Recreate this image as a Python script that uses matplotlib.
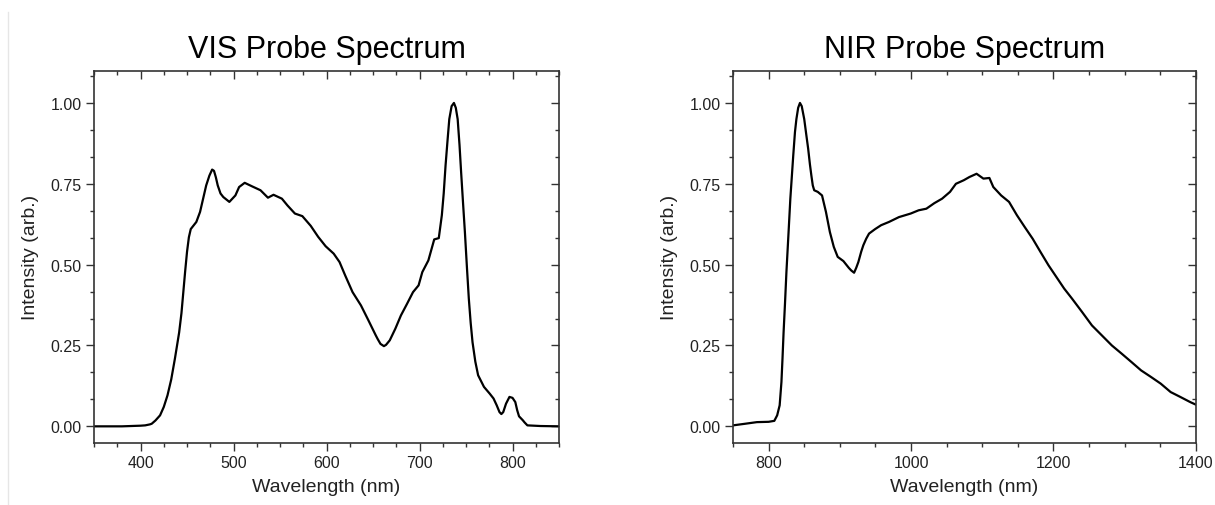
import matplotlib
matplotlib.use("Agg")
import matplotlib.pyplot as plt
from matplotlib.ticker import MultipleLocator, FormatStrFormatter
from matplotlib.lines import Line2D

plt.rcParams['font.family'] = ['Liberation Sans', 'DejaVu Sans']

# VIS probe spectrum
vis_wl = [350, 380, 400, 405, 410, 412, 416, 421, 425, 429, 433, 437, 441.5, 444, 446,
          448, 450, 452, 454, 460, 464, 470.6, 474, 477, 479, 481, 483, 486, 489, 495.5,
          502, 506, 512, 520, 529, 537, 543, 552, 558, 566, 574, 583, 591, 599, 607.7,
          614, 620, 628, 637, 645, 653, 655, 658, 661.7, 664, 668, 674, 680, 686.6, 693,
          699, 703, 709.5, 715.8, 720.7, 724, 726, 728, 730, 732, 734.5, 737, 739, 741,
          743, 744.7, 746.8, 748.8, 751, 753, 755, 757, 760, 763, 769.3, 775.5, 779.6,
          783, 786, 788, 790, 793, 796.7, 800, 803, 805, 807, 811, 813, 816, 830, 850]
vis_int = [0.0, 0.0, 0.002, 0.003, 0.006, 0.008, 0.018, 0.034, 0.06, 0.096, 0.145, 0.21,
           0.29, 0.35, 0.415, 0.48, 0.54, 0.585, 0.61, 0.632, 0.663, 0.745, 0.775, 0.794,
           0.79, 0.77, 0.745, 0.72, 0.709, 0.694, 0.714, 0.74, 0.753, 0.742, 0.73, 0.707,
           0.716, 0.704, 0.683, 0.658, 0.65, 0.62, 0.586, 0.557, 0.534, 0.508, 0.467,
           0.415, 0.374, 0.328, 0.281, 0.27, 0.255, 0.248, 0.252, 0.266, 0.302, 0.343,
           0.379, 0.415, 0.436, 0.477, 0.513, 0.578, 0.582, 0.653, 0.72, 0.807, 0.88,
           0.95, 0.99, 1.0, 0.985, 0.95, 0.87, 0.787, 0.69, 0.6, 0.49, 0.395, 0.32, 0.26,
           0.2, 0.158, 0.122, 0.101, 0.086, 0.065, 0.044, 0.038, 0.044, 0.07, 0.091,
           0.088, 0.075, 0.05, 0.031, 0.019, 0.012, 0.003, 0.001, 0.0]

# NIR probe spectrum
nir_wl = [750, 767, 783.5, 800, 808, 812, 815.5, 818, 819.5, 821, 823, 825, 828, 830.5,
          834.6, 837, 839, 841.5, 844, 846.5, 850, 853, 855.5, 858, 860, 862, 864, 869,
          875, 880.5, 886, 891.5, 897, 905, 912.6, 916, 920, 923, 926, 930, 933, 937,
          941, 949.6, 958, 969, 983, 999.5, 1010.6, 1021.5, 1032.6, 1043.6, 1054.7,
          1063, 1074, 1082, 1092, 1101.6, 1110, 1115.5, 1126.5, 1137.6, 1148.6, 1159.7,
          1170.8, 1181.8, 1193, 1204, 1215, 1226, 1240, 1254, 1268, 1282, 1295.6,
          1309.4, 1323, 1336.7, 1350.6, 1364.5, 1378, 1392, 1400]
nir_int = [0.003, 0.008, 0.013, 0.014, 0.017, 0.034, 0.065, 0.137, 0.21, 0.29, 0.38,
           0.477, 0.6, 0.704, 0.838, 0.91, 0.95, 0.985, 1.0, 0.99, 0.95, 0.9, 0.859,
           0.81, 0.776, 0.745, 0.73, 0.725, 0.714, 0.663, 0.601, 0.555, 0.524, 0.511,
           0.49, 0.482, 0.475, 0.49, 0.508, 0.54, 0.56, 0.58, 0.596, 0.61, 0.622, 0.632,
           0.647, 0.658, 0.668, 0.673, 0.69, 0.704, 0.725, 0.75, 0.761, 0.771, 0.781,
           0.766, 0.768, 0.74, 0.714, 0.694, 0.653, 0.616, 0.58, 0.539, 0.498, 0.462,
           0.426, 0.395, 0.354, 0.312, 0.281, 0.25, 0.225, 0.199, 0.173, 0.153, 0.132,
           0.106, 0.091, 0.075, 0.067]

yticks = [0.0, 0.25, 0.5, 0.75, 1.0]

fig = plt.figure(figsize=(12.15, 5.06), dpi=100)
ax1 = fig.add_axes([0.0774, 0.1235, 0.3827, 0.735])
ax2 = fig.add_axes([0.6033, 0.1235, 0.3810, 0.735])

fig.add_artist(Line2D([0.0066, 0.0066], [0.0, 0.975], transform=fig.transFigure,
                      color='#e6e6e6', lw=1))

def style(ax, title, xlim, xmaj, xmin):
    ax.set_xlim(*xlim)
    ax.set_ylim(-0.05, 1.1)
    ax.set_yticks(yticks)
    ax.yaxis.set_major_formatter(FormatStrFormatter('%.2f'))
    ax.yaxis.set_minor_locator(MultipleLocator(0.25 / 3))
    ax.xaxis.set_major_locator(MultipleLocator(xmaj))
    ax.xaxis.set_minor_locator(MultipleLocator(xmin))
    ax.set_title(title, fontsize=22, pad=10)
    ax.set_xlabel('Wavelength (nm)', fontsize=14, color='#222222', labelpad=6)
    ax.set_ylabel('Intensity (arb.)', fontsize=14, color='#222222', labelpad=8)
    for s in ax.spines.values():
        s.set_color('#333333')
        s.set_linewidth(1.2)
    ax.tick_params(which='both', direction='out', bottom=True, left=True,
                   top=False, right=False, color='#333333', labelcolor='#222222',
                   labelsize=11.5, width=1.0)
    ax.tick_params(which='major', length=5.5)
    ax.tick_params(which='minor', length=3)
    sec_x = ax.secondary_xaxis('top')
    sec_x.xaxis.set_major_locator(MultipleLocator(xmaj))
    sec_x.xaxis.set_minor_locator(MultipleLocator(xmin))
    sec_x.tick_params(which='both', direction='in', labeltop=False, color='#333333', width=1.0)
    sec_x.tick_params(which='major', length=5.5)
    sec_x.tick_params(which='minor', length=3)
    sec_x.spines['top'].set_visible(False)
    sec_y = ax.secondary_yaxis('right')
    sec_y.set_yticks(yticks)
    sec_y.yaxis.set_minor_locator(MultipleLocator(0.25 / 3))
    sec_y.tick_params(which='both', direction='in', labelright=False, color='#333333', width=1.0)
    sec_y.tick_params(which='major', length=5.5)
    sec_y.tick_params(which='minor', length=3)
    sec_y.spines['right'].set_visible(False)

ax1.plot(vis_wl, vis_int, color='black', lw=1.6)
ax2.plot(nir_wl, nir_int, color='black', lw=1.6)
style(ax1, 'VIS Probe Spectrum', (350, 850), 100, 25)
style(ax2, 'NIR Probe Spectrum', (750, 1400), 200, 50)

fig.savefig('out.png', dpi=100, facecolor='white')
